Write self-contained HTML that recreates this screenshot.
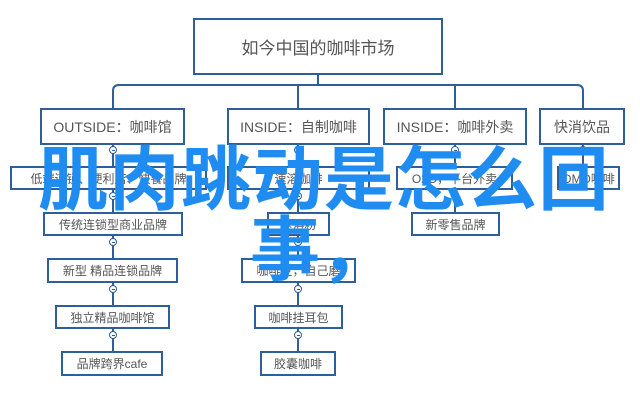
<!DOCTYPE html>
<html><head><meta charset="utf-8"><style>
body{margin:0;width:640px;height:400px;background:#fff;position:relative;overflow:hidden;font-family:"Liberation Sans","Noto Sans CJK SC",sans-serif}
.b{position:absolute;border:2px solid #2d5f9a;box-sizing:border-box;background:#fff;color:#555;display:flex;align-items:center;justify-content:center;font-size:12px;white-space:nowrap}
.c{position:absolute;width:8px;height:8px;border:1.5px solid #2d5f9a;border-radius:50%;background:#fff;box-sizing:border-box}
.c::after{content:"";position:absolute;left:1.5px;right:1.5px;top:2.5px;height:1px;background:#2d5f9a}
.big{position:absolute;color:#1e8cf0;font-family:"Noto Sans CJK SC",sans-serif;font-weight:bold;font-size:70px;line-height:1;white-space:nowrap}
</style></head><body>
<svg width="640" height="400" style="position:absolute;left:0;top:0">
<g stroke="#2d5f9a" stroke-width="2" fill="none">
<line x1="318" y1="75" x2="318" y2="85"/>
<path d="M113 108 V91 Q113 85 119 85 H577 Q583 85 583 91 V108"/>
<line x1="298" y1="85" x2="298" y2="108"/>
<line x1="455" y1="85" x2="455" y2="108"/>
<line x1="113" y1="145" x2="113" y2="351"/>
<line x1="298" y1="145" x2="298" y2="351"/>
<line x1="455" y1="145" x2="455" y2="212"/>
<line x1="583" y1="145" x2="583" y2="166"/>
</g></svg>
<div class="b" style="left:193px;top:18px;width:250px;height:57px;font-size:17px">如今中国的咖啡市场</div>
<div class="b" style="left:40px;top:108px;width:145px;height:37px;font-size:14px">OUTSIDE：咖啡馆</div>
<div class="b" style="left:227px;top:108px;width:143px;height:37px;font-size:14px">INSIDE：自制咖啡</div>
<div class="b" style="left:383px;top:108px;width:144px;height:37px;font-size:14px">INSIDE：咖啡外卖</div>
<div class="b" style="left:539px;top:108px;width:86px;height:37px;font-size:14px">快消饮品</div>
<div class="b" style="left:10px;top:166px;width:197px;height:24px">低端连锁、便利店、快餐品牌</div>
<div class="b" style="left:227px;top:166px;width:143px;height:24px">速溶咖啡</div>
<div class="b" style="left:396px;top:166px;width:117px;height:24px">O2O，平台外卖</div>
<div class="b" style="left:557px;top:166px;width:63px;height:24px">OMO咖啡</div>
<div class="b" style="left:43px;top:212px;width:140px;height:24px">传统连锁型商业品牌</div>
<div class="b" style="left:267px;top:212px;width:63px;height:24px">速溶粉</div>
<div class="b" style="left:411px;top:212px;width:89px;height:24px">新零售品牌</div>
<div class="b" style="left:47px;top:258px;width:131px;height:25px">新型 精品连锁品牌</div>
<div class="b" style="left:241px;top:258px;width:115px;height:25px">咖啡豆，自己磨</div>
<div class="b" style="left:55px;top:305px;width:115px;height:24px">独立精品咖啡馆</div>
<div class="b" style="left:254px;top:305px;width:89px;height:24px">咖啡挂耳包</div>
<div class="b" style="left:61px;top:351px;width:102px;height:25px">品牌跨界cafe</div>
<div class="b" style="left:260px;top:351px;width:76px;height:25px">胶囊咖啡</div>
<div class="c" style="left:109px;top:146px"></div><div class="c" style="left:294px;top:146px"></div><div class="c" style="left:451px;top:146px"></div><div class="c" style="left:579px;top:146px"></div>
<div class="c" style="left:109px;top:192px"></div><div class="c" style="left:294px;top:192px"></div><div class="c" style="left:451px;top:192px"></div>
<div class="c" style="left:109px;top:238px"></div><div class="c" style="left:294px;top:238px"></div>
<div class="c" style="left:109px;top:285px"></div><div class="c" style="left:294px;top:285px"></div>
<div class="c" style="left:109px;top:331px"></div><div class="c" style="left:294px;top:331px"></div>
<div class="big" style="left:38px;top:140px;letter-spacing:1.5px">肌肉跳动是怎么回</div>
<div class="big" style="left:250px;top:210px">事，</div>
</body></html>
